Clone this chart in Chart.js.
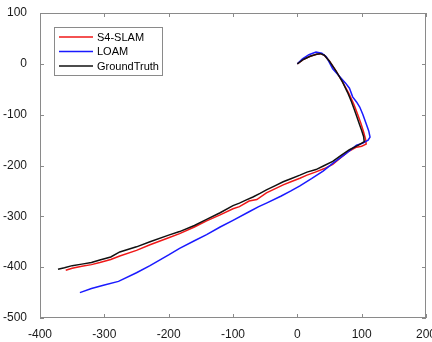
<!DOCTYPE html>
<html>
<head>
<meta charset="utf-8">
<script src="https://cdn.jsdelivr.net/npm/chart.js@4"></script>
<style>
  body { margin: 0; background: #fff; }
  canvas { display: block; }
</style>
</head>
<body>
<canvas id="trajChart" width="432" height="342"></canvas>
<script>
// trajectories (metres)
const seriesNames = ['S4-SLAM', 'LOAM', 'GroundTruth'];
const seriesColors = ['#f01818', '#1a1aff', '#111111'];

const gtX = [0, 10, 20, 30, 36, 42, 50, 60, 70, 78, 84, 88, 92, 96, 100, 103, 104, 95, 81, 68, 55, 42, 29, 15, 4, -10, -22, -35, -48, -58, -69, -80, -90, -100, -120, -141, -160, -183, -200, -229, -250, -276, -290, -307, -320, -335, -350, -362, -372];
const gtY = [0, 9, 15, 19, 20, 17, 5, -14, -35, -56, -74, -88, -102, -117, -131, -143, -153, -160, -169, -180, -192, -200, -208, -213, -219, -226, -232, -240, -248, -255, -262, -268, -274, -279, -293, -306, -318, -330, -337, -350, -360, -370, -380, -386, -391, -394, -397, -401, -404];

const s4X = [0, 10, 20, 30, 36, 42, 50, 60, 70, 80, 88, 94, 99, 103, 106, 107, 100, 92, 80, 68, 55, 42, 28, 15, 4, -10, -22, -35, -48, -63, -75, -90, -100, -120, -141, -160, -183, -200, -229, -250, -276, -290, -307, -320, -335, -350, -360];
const s4Y = [0, 9, 15, 19, 20, 17, 5, -14, -35, -58, -80, -100, -118, -134, -148, -158, -162, -164, -172, -184, -198, -206, -213, -219, -225, -232, -238, -246, -254, -267, -270, -281, -285, -297, -309, -321, -334, -342, -356, -367, -378, -385, -391, -395, -398, -402, -406];

const loamX = [0, 8, 18, 29, 38, 45, 55, 65, 75, 81, 86, 92, 97, 102, 107, 111, 113, 110, 102, 92, 75, 55, 40, 22, 4, -10, -25, -48, -60, -75, -100, -120, -141, -160, -183, -200, -229, -250, -278, -300, -320, -338];
const loamY = [0, 10, 18, 23, 21, 14, -10, -24, -38, -48, -65, -75, -85, -100, -118, -132, -144, -150, -156, -160, -177, -196, -211, -226, -240, -250, -260, -274, -281, -291, -308, -321, -336, -348, -363, -376, -397, -411, -428, -435, -442, -450];

const xTicks = [-400, -300, -200, -100, 0, 100, 200];
const yTicks = [-500, -400, -300, -200, -100, 0, 100];

function toPoints(xs, ys) {
  return xs.map((x, i) => ({ x: x, y: ys[i] }));
}

// MATLAB-like box with inward ticks on all four sides
const boxPlugin = {
  id: 'box',
  afterDatasetsDraw(chart) {
    const { ctx, chartArea: a, scales } = chart;
    ctx.save();
    ctx.strokeStyle = '#8a8a8a';
    ctx.lineWidth = 1;
    ctx.strokeRect(a.left + 0.5, a.top + 0.5, a.right - a.left - 1, a.bottom - a.top - 1);
    const len = 4;
    ctx.beginPath();
    xTicks.forEach(v => {
      const px = Math.round(scales.x.getPixelForValue(v)) + 0.5;
      ctx.moveTo(px, a.bottom); ctx.lineTo(px, a.bottom - len);
      ctx.moveTo(px, a.top); ctx.lineTo(px, a.top + len);
    });
    yTicks.forEach(v => {
      const py = Math.round(scales.y.getPixelForValue(v)) + 0.5;
      ctx.moveTo(a.left, py); ctx.lineTo(a.left + len, py);
      ctx.moveTo(a.right, py); ctx.lineTo(a.right - len, py);
    });
    ctx.stroke();
    ctx.restore();
  },
  afterDraw(chart) {
    // legend box in the upper left corner of the axes
    const { ctx, chartArea: a } = chart;
    const bx = a.left + 14, by = a.top + 14, bw = 108, bh = 48;
    ctx.save();
    ctx.fillStyle = '#fff';
    ctx.fillRect(bx, by, bw, bh);
    ctx.strokeStyle = '#8a8a8a';
    ctx.lineWidth = 1;
    ctx.strokeRect(bx + 0.5, by + 0.5, bw, bh);
    ctx.font = '11px "Liberation Sans", Arial, sans-serif';
    ctx.textBaseline = 'middle';
    seriesNames.forEach((name, i) => {
      const ly = by + 10 + i * 14.5;
      ctx.strokeStyle = seriesColors[i];
      ctx.lineWidth = 1.5;
      ctx.beginPath();
      ctx.moveTo(bx + 5, ly); ctx.lineTo(bx + 39, ly);
      ctx.stroke();
      ctx.fillStyle = '#000';
      ctx.fillText(name, bx + 43, ly + 0.5);
    });
    ctx.restore();
  }
};

const tickFont = { family: '"Liberation Sans", Arial, sans-serif', size: 12 };

new Chart(document.getElementById('trajChart'), {
  type: 'scatter',
  data: {
    datasets: [
      { label: seriesNames[0], data: toPoints(s4X, s4Y), borderColor: seriesColors[0], order: 2 },
      { label: seriesNames[1], data: toPoints(loamX, loamY), borderColor: seriesColors[1], order: 1 },
      { label: seriesNames[2], data: toPoints(gtX, gtY), borderColor: seriesColors[2], order: 0 }
    ].map(d => Object.assign(d, {
      showLine: true, pointRadius: 0, borderWidth: 1.5, tension: 0, fill: false
    }))
  },
  options: {
    responsive: false,
    animation: false,
    layout: { padding: { top: 13, right: 6, left: 0, bottom: 0 } },
    plugins: { legend: { display: false }, tooltip: { enabled: false } },
    scales: {
      x: {
        type: 'linear', min: -400, max: 200,
        afterBuildTicks: s => { s.ticks = xTicks.map(v => ({ value: v })); },
        afterFit: s => { s.height = 24; s.paddingLeft = 0; s.paddingRight = 0; },
        grid: { display: false },
        border: { display: false },
        ticks: { font: tickFont, color: '#1a1a1a', padding: 1, maxRotation: 0, autoSkip: false }
      },
      y: {
        type: 'linear', min: -500, max: 100,
        afterBuildTicks: s => { s.ticks = yTicks.map(v => ({ value: v })); },
        afterFit: s => { s.width = 40; s.paddingTop = 0; s.paddingBottom = 0; },
        grid: { display: false },
        border: { display: false },
        ticks: { font: tickFont, color: '#1a1a1a', padding: 5, autoSkip: false }
      }
    }
  },
  plugins: [boxPlugin]
});
</script>
</body>
</html>
